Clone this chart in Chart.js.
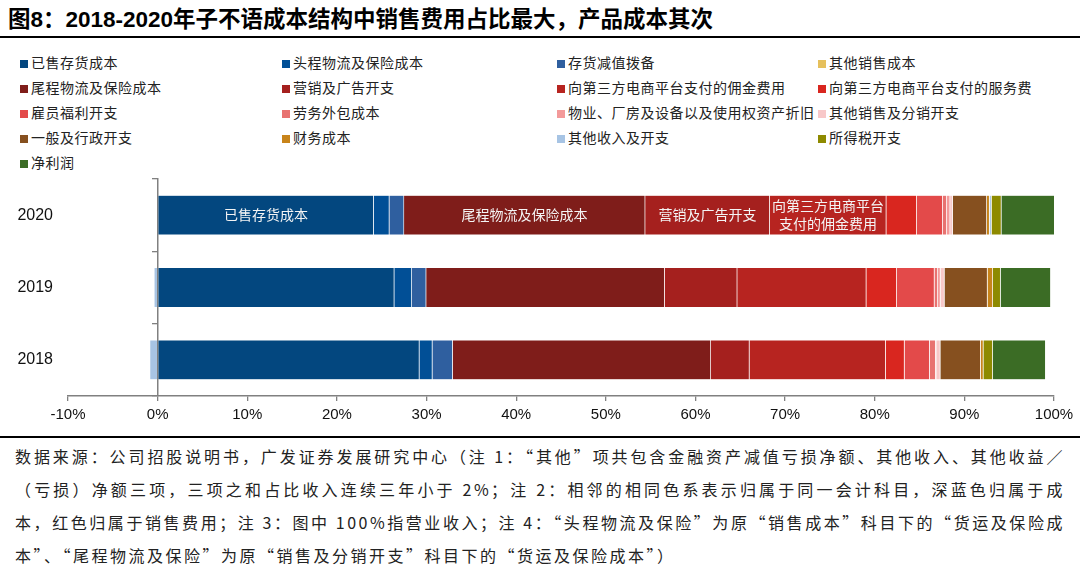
<!DOCTYPE html>
<html>
<head>
<meta charset="utf-8">
<script src="https://cdn.jsdelivr.net/npm/chart.js@4.4.1/dist/chart.umd.min.js"></script>
<style>
  html, body { margin: 0; padding: 0; background: #fff; }
  body { width: 1080px; height: 577px; position: relative; overflow: hidden;
         font-family: "Liberation Sans", "Noto Sans CJK SC", sans-serif; color: #111; }
  #title { position: absolute; left: 8px; top: 5px; line-height: 30px; font-size: 22.5px; font-weight: bold; color: #000; white-space: nowrap; }
  #title-rule { position: absolute; left: 0; top: 36px; width: 1080px; height: 2px; background: #000; }
  #legend { position: absolute; left: 0; top: 0; width: 1080px; }
  .lg-item { position: absolute; height: 20px; line-height: 20px; font-size: 14px; color: #222; white-space: nowrap;
             font-family: "Noto Sans CJK SC", sans-serif; letter-spacing: 0.5px; }
  .lg-box { display: inline-block; width: 8px; height: 8px; margin-right: 3px; vertical-align: 0px; }
  #chart { position: absolute; left: 0; top: 170px; }
  #note-rule { position: absolute; left: 0; top: 436px; width: 1080px; height: 2px; background: #000; }
  #notes { position: absolute; left: 15px; top: 440px; width: 1050px; font-size: 16px; line-height: 33px; color: #222;
           font-family: "Noto Sans CJK SC", sans-serif; letter-spacing: 2.5px; }
  .nl { white-space: nowrap; text-align: justify; text-align-last: justify; }
  .nl.last { text-align-last: left; }
</style>
</head>
<body>
<div id="title">图8：2018-2020年子不语成本结构中销售费用占比最大，产品成本其次</div>
<div id="title-rule"></div>
<div id="legend"></div>
<canvas id="chart" width="1080" height="260"></canvas>
<div id="note-rule"></div>
<div id="notes">
  <div class="nl">数据来源：公司招股说明书，广发证券发展研究中心（注 1：“其他”项共包含金融资产减值亏损净额、其他收入、其他收益／</div>
  <div class="nl">（亏损）净额三项，三项之和占比收入连续三年小于 2%；注 2：相邻的相同色系表示归属于同一会计科目，深蓝色归属于成</div>
  <div class="nl">本，红色归属于销售费用；注 3：图中 100%指营业收入；注 4：“头程物流及保险”为原“销售成本”科目下的“货运及保险成</div>
  <div class="nl last">本”、“尾程物流及保险”为原“销售及分销开支”科目下的“货运及保险成本”）</div>
</div>
<script>
// Categories (top to bottom)
const years = ['2020', '2019', '2018'];

// Share of revenue (%)
const soldInventory = [24.1, 26.4, 29.2];
const firstMile = [1.75, 1.96, 1.45];
const inventoryImpairment = [1.64, 1.6, 2.27];
const otherSalesCost = [0, 0, 0];
const lastMile = [26.9, 26.6, 28.8];
const marketing = [13.9, 8.1, 4.3];
const commission = [13.0, 14.4, 15.2];
const serviceFee = [3.4, 3.4, 2.1];
const staffCost = [2.9, 4.2, 2.8];
const outsourcing = [0.45, 0.38, 0.67];
const depreciation = [0.37, 0.29, 0.15];
const otherSelling = [0.3, 0.45, 0.38];
const adminCost = [3.8, 4.8, 4.5];
const financeCost = [0.3, 0.6, 0.3];
const otherIncome = [0.22, -0.41, -0.89];
const incomeTax = [1.1, 0.86, 1.05];
const netProfit = [6.0, 5.6, 5.9];

const xTicks = { min: -10, max: 100, step: 10 };

// series: name, data, colour, text shown inside the 2020 bar
const SERIES = [
  ['已售存货成本', soldInventory, '#03477f', ['已售存货成本']],
  ['头程物流及保险成本', firstMile, '#014f96'],
  ['存货减值拨备', inventoryImpairment, '#2f5f9f'],
  ['其他销售成本', otherSalesCost, '#e6c05c'],
  ['尾程物流及保险成本', lastMile, '#7f1d1a', ['尾程物流及保险成本']],
  ['营销及广告开支', marketing, '#a5201e', ['营销及广告开支']],
  ['向第三方电商平台支付的佣金费用', commission, '#b72420', ['向第三方电商平台', '支付的佣金费用']],
  ['向第三方电商平台支付的服务费', serviceFee, '#d9261f'],
  ['雇员福利开支', staffCost, '#e34a4a'],
  ['劳务外包成本', outsourcing, '#e87270'],
  ['物业、厂房及设备以及使用权资产折旧', depreciation, '#f39a9a'],
  ['其他销售及分销开支', otherSelling, '#f8c8c8'],
  ['一般及行政开支', adminCost, '#86501f'],
  ['财务成本', financeCost, '#c8841a'],
  ['其他收入及开支', otherIncome, '#a7c4e4'],
  ['所得税开支', incomeTax, '#8e8a00'],
  ['净利润', netProfit, '#3b6c25']
];

const datasets = SERIES.map(([label, data, color, inside]) => ({
  label: label,
  data: data,
  backgroundColor: color,
  borderColor: 'rgba(255,255,255,0.3)',
  borderWidth: data.some(v => v !== 0) ? 0.6 : 0,
  inside: inside || null,
  categoryPercentage: 1,
  barPercentage: 0.553
}));

// Labels written inside the first (2020) bar
const insideLabels = {
  id: 'insideLabels',
  afterDatasetsDraw(chart) {
    const ctx = chart.ctx;
    ctx.save();
    ctx.fillStyle = '#f4f4f4';
    ctx.font = '14px "Noto Sans CJK SC", sans-serif';
    ctx.textAlign = 'center';
    ctx.textBaseline = 'middle';
    chart.data.datasets.forEach((ds, i) => {
      if (!ds.inside) return;
      const bar = chart.getDatasetMeta(i).data[0];
      const cx = (bar.x + bar.base) / 2;
      const n = ds.inside.length;
      ds.inside.forEach((line, k) => {
        ctx.fillText(line, cx, bar.y + (k - (n - 1) / 2) * 18);
      });
    });
    ctx.restore();
  }
};

const chart = new Chart(document.getElementById('chart'), {
  type: 'bar',
  data: { labels: years, datasets: datasets },
  options: {
    indexAxis: 'y',
    responsive: false,
    animation: false,
    layout: { padding: { top: 9, right: 26, left: 0, bottom: 0 } },
    plugins: {
      legend: { display: false },
      tooltip: { enabled: false }
    },
    scales: {
      x: {
        type: 'linear',
        stacked: true,
        min: xTicks.min,
        max: xTicks.max,
        ticks: {
          stepSize: xTicks.step,
          callback: v => v + '%',
          color: '#111',
          font: { family: 'Liberation Sans', size: 15 },
          padding: 5
        },
        grid: { drawOnChartArea: false, drawTicks: true, tickLength: 5, color: '#808080', lineWidth: 1.3 },
        border: { color: '#808080', width: 1.5 },
        afterFit: s => { s.height = 34; }
      },
      y: {
        type: 'category',
        stacked: true,
        position: 'left',
        grid: { display: false, drawTicks: false },
        border: { display: false },
        ticks: { color: '#111', font: { family: 'Liberation Sans', size: 16 }, padding: 15 },
        afterFit: s => { s.width = 68; s.paddingTop = 0; s.paddingBottom = 0; }
      },
      y2: {
        type: 'category',
        position: { x: 0 },
        offset: true,
        ticks: { display: false },
        grid: { drawOnChartArea: false, offset: true, tickLength: 5, color: '#808080', lineWidth: 1.3 },
        border: { color: '#808080', width: 1.5 },
        afterFit: s => { s.paddingTop = 0; s.paddingBottom = 0; }
      }
    }
  },
  plugins: [insideLabels]
});

// Legend in four fixed columns, built from the chart's datasets
const legendCols = [20, 282, 557, 818];
const legendTop = 52;
const legendRow = 25;
const legendEl = document.getElementById('legend');
chart.data.datasets.forEach((ds, i) => {
  const item = document.createElement('div');
  item.className = 'lg-item';
  item.style.left = legendCols[i % 4] + 'px';
  item.style.top = (legendTop + Math.floor(i / 4) * legendRow) + 'px';
  const box = document.createElement('span');
  box.className = 'lg-box';
  box.style.background = ds.backgroundColor;
  item.appendChild(box);
  item.appendChild(document.createTextNode(ds.label));
  legendEl.appendChild(item);
});
</script>
</body>
</html>
